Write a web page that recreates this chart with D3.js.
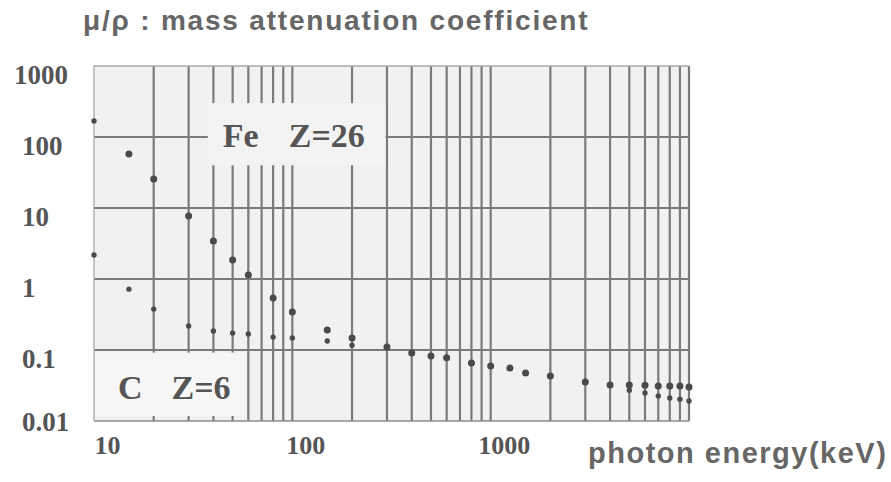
<!DOCTYPE html>
<html>
<head>
<meta charset="utf-8">
<script src="https://cdn.jsdelivr.net/npm/d3@7"></script>
<style>
  html, body { margin: 0; padding: 0; background: #ffffff; }
  svg { display: block; }
</style>
</head>
<body>
<svg id="chart" width="891" height="482"></svg>
<script>
// Photon energies (keV) at which the attenuation coefficients are plotted
const energies = [10, 15, 20, 30, 40, 50, 60, 80, 100, 150, 200, 300, 400, 500, 600, 800,
                  1000, 1250, 1500, 2000, 3000, 4000, 5000, 6000, 7000, 8000, 9000, 10000];
// Mass attenuation coefficient mu/rho (cm^2/g) for iron, Z = 26
const feValues = [168, 57.6, 25.6, 7.7, 3.43, 1.85, 1.14, 0.54, 0.343, 0.191, 0.148, 0.110, 0.0908, 0.082,
                  0.0775, 0.0656, 0.0595, 0.0558, 0.0474, 0.043, 0.0354, 0.0321, 0.0321, 0.032, 0.031, 0.031, 0.031, 0.030];
// Mass attenuation coefficient mu/rho (cm^2/g) for carbon, Z = 6
const cValues = [2.18, 0.72, 0.377, 0.218, 0.185, 0.173, 0.168, 0.152, 0.148, 0.134, 0.117, 0.108, 0.0908, 0.082,
                 0.0775, 0.0656, 0.0595, 0.0558, 0.0474, 0.043, 0.0354, 0.0321, 0.0272, 0.0248, 0.0225, 0.0211, 0.0203, 0.0191];
const xTickLabels = [10, 100, 1000];
const yTickLabels = [1000, 100, 10, 1, 0.1, 0.01];

const svg = d3.select("#chart");
const plotLeft = 94, plotRight = 689, plotTop = 66, plotBottom = 421;

const x = d3.scaleLog().domain([10, 10000]).range([plotLeft, plotRight]);
const y = d3.scaleLog().domain([0.01, 1000]).range([plotBottom, plotTop]);

const gridColor = "#7a7a7a";
const inkColor = "#555555";

// plot paper
svg.append("rect")
  .attr("x", plotLeft).attr("y", plotTop)
  .attr("width", plotRight - plotLeft).attr("height", plotBottom - plotTop)
  .attr("fill", "#f1f1f1");

// vertical grid: every 1..9 x decade
const grid = svg.append("g").attr("stroke", gridColor).attr("stroke-width", 2.2);
grid.selectAll("line.v")
  .data(x.ticks().filter(d => d > 10))
  .join("line")
  .attr("class", "v")
  .attr("x1", d => x(d)).attr("x2", d => x(d))
  .attr("y1", plotTop).attr("y2", plotBottom);

// horizontal grid at the inner decades
grid.selectAll("line.h")
  .data([100, 10, 1, 0.1])
  .join("line")
  .attr("class", "h")
  .attr("x1", plotLeft).attr("x2", plotRight)
  .attr("y1", d => y(d)).attr("y2", d => y(d));

// frame
svg.append("path")
  .attr("d", `M${plotRight},${plotTop}H${plotLeft}V${plotBottom}`)
  .attr("fill", "none").attr("stroke", "#a8a8a8").attr("stroke-width", 1.3);
svg.append("line")
  .attr("x1", plotLeft).attr("x2", plotRight).attr("y1", plotBottom).attr("y2", plotBottom)
  .attr("stroke", "#8c8c8c").attr("stroke-width", 1.6);

// cleared panels that hold the element labels
const feBox = { x0: x(37.5), x1: x(295), y0: y(300), y1: y(40) };
svg.append("rect")
  .attr("x", feBox.x0).attr("y", feBox.y0)
  .attr("width", feBox.x1 - feBox.x0).attr("height", feBox.y1 - feBox.y0)
  .attr("fill", "#f3f3f3");

const cBox = { x0: plotLeft + 1, x1: x(58), y0: y(0.092), y1: plotBottom - 5 };
svg.append("rect")
  .attr("x", cBox.x0).attr("y", cBox.y0)
  .attr("width", cBox.x1 - cBox.x0).attr("height", cBox.y1 - cBox.y0)
  .attr("fill", "#f6f6f6");

const labelFont = "'Liberation Serif', 'DejaVu Serif', serif";

svg.append("text")
  .attr("x", feBox.x0 + 15).attr("y", y(100) + 10)
  .attr("font-family", labelFont).attr("font-weight", 700)
  .attr("font-size", 34).attr("fill", inkColor)
  .call(t => {
    t.append("tspan").text("Fe");
    t.append("tspan").attr("dx", 30).text("Z=26");
  });

svg.append("text")
  .attr("x", plotLeft + 24).attr("y", y(0.1) + 49)
  .attr("font-family", labelFont).attr("font-weight", 700)
  .attr("font-size", 34).attr("fill", inkColor)
  .call(t => {
    t.append("tspan").text("C");
    t.append("tspan").attr("dx", 29).text("Z=6");
  });

// data points
const pts = svg.append("g").attr("fill", "#4a4a4a");
pts.selectAll("circle.c")
  .data(energies.map((e, i) => [e, cValues[i]]))
  .join("circle")
  .attr("class", "c")
  .attr("cx", d => x(d[0])).attr("cy", d => y(d[1]))
  .attr("r", 2.7);
pts.selectAll("circle.fe")
  .data(energies.map((e, i) => [e, feValues[i]]))
  .join("circle")
  .attr("class", "fe")
  .attr("cx", d => x(d[0])).attr("cy", d => y(d[1]))
  .attr("r", d => d[0] === 10 ? 2.7 : 3.5);

// axes: tick labels only
const fmt = d => d3.format("~g")(d);

const xAxis = svg.append("g")
  .attr("transform", `translate(0,${plotBottom})`)
  .call(d3.axisBottom(x).tickValues(xTickLabels).tickFormat(fmt).tickSize(0).tickPadding(0));
xAxis.select(".domain").remove();
xAxis.selectAll("text")
  .attr("dy", null)
  .attr("y", 33)
  .attr("dx", 13)
  .attr("font-family", labelFont).attr("font-weight", 700)
  .attr("font-size", 26).attr("fill", inkColor);

const yAxis = svg.append("g")
  .call(d3.axisLeft(y).tickValues(yTickLabels).tickFormat(fmt).tickSize(0).tickPadding(0));
yAxis.select(".domain").remove();
yAxis.selectAll("text")
  .attr("text-anchor", "start")
  .attr("x", d => d === 1000 ? 14 : 22)
  .attr("dy", null)
  .attr("y", d => Math.min(Math.max(y(d) + 9, plotTop + 3), plotBottom + 1) - y(d) + 8)
  .attr("font-family", labelFont).attr("font-weight", 700)
  .attr("font-size", 27).attr("fill", inkColor);

// titles
const titleFont = "'Liberation Sans', Arial, sans-serif";
svg.append("text")
  .attr("x", 83).attr("y", 30)
  .attr("font-family", titleFont).attr("font-weight", 700)
  .attr("font-size", 28).attr("letter-spacing", 1.8)
  .attr("fill", "#666666")
  .text("μ/ρ : mass attenuation coefficient");

svg.append("text")
  .attr("x", 588).attr("y", 463)
  .attr("font-family", titleFont).attr("font-weight", 700)
  .attr("font-size", 29).attr("letter-spacing", 1.5)
  .attr("fill", "#666666")
  .text("photon energy(keV)");
</script>
</body>
</html>
